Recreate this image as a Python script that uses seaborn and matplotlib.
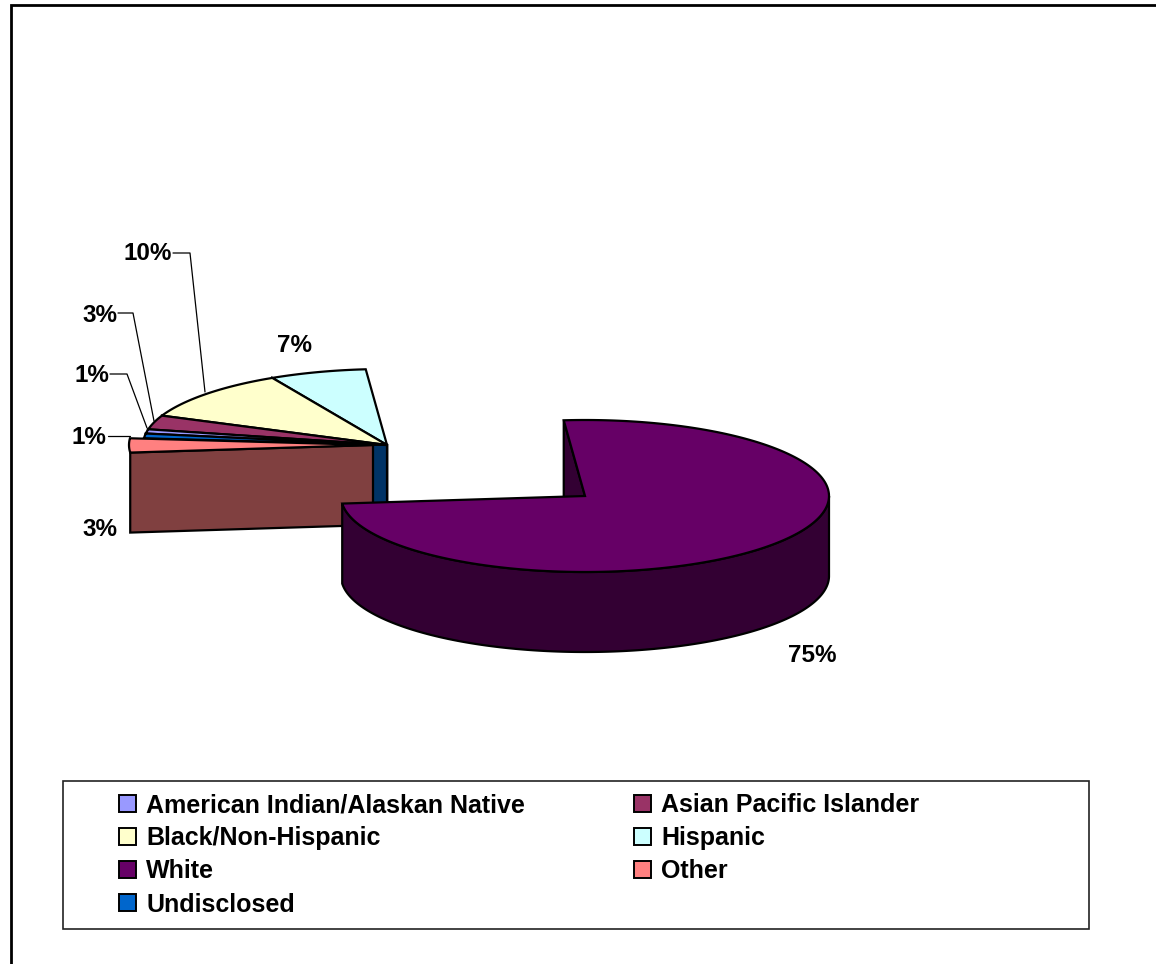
import numpy as np
import matplotlib
matplotlib.use("Agg")
import matplotlib.pyplot as plt
from matplotlib.patches import Patch, Rectangle
import seaborn as sns

categories = ["American Indian/Alaskan Native", "Asian Pacific Islander", "Black/Non-Hispanic",
              "Hispanic", "White", "Other", "Undisclosed"]
values = [0.9, 3.0, 10.9, 6.4, 74.8, 3.0, 1.0]
labels = ["1%", "3%", "10%", "7%", "75%", "3%", "1%"]
colors = ["#9999FF", "#993366", "#FFFFCC", "#CCFFFF", "#660066", "#FF8080", "#0066CC"]

sns.set_theme(style="white")
plt.rcParams["font.family"] = ["Liberation Sans", "DejaVu Sans"]

W, H = 1156, 964
fig = plt.figure(figsize=(W / 100, H / 100), dpi=100, facecolor="white")
ax = fig.add_axes([0, 0, 1, 1])
ax.set_xlim(0, W)
ax.set_ylim(H, 0)
ax.axis("off")

# layout of the pseudo-3D pie
RX, RY, DEPTH = 244, 76, 80
START = -5 - 360 * sum(values[:4]) / sum(values)
TIPS = {"White": (585, 496), "Other": (373, 445)}
DEFAULT_TIP = (387, 445)
LW = 1.6
FS = 17.5
LEG_FS = 18


def arc(tip, t0, t1, dy=0):
    t = np.radians(np.linspace(t0, t1, max(2, int(abs(t1 - t0)) * 2 + 2)))
    return tip[0] + RX * np.sin(t), tip[1] - RY * np.cos(t) + dy


def shade(c):
    return tuple(v * 0.5 for v in matplotlib.colors.to_rgb(c))


def face(x, y, color, z):
    ax.fill(x, y, facecolor=color, edgecolor="black", lw=LW, joinstyle="miter", zorder=z)


edges = START + 360 * np.concatenate([[0], np.cumsum(values)]) / sum(values)
draw_order = [3, 2, 1, 0, 6, 5, 4]
for z, i in enumerate(draw_order):
    t0, t1 = edges[i], edges[i + 1]
    tip = TIPS.get(categories[i], DEFAULT_TIP)
    base = 10 + z * 3
    dark = shade(colors[i])
    # clockwise-start wall
    ox, oy = arc(tip, t0, t0)
    ox, oy = ox[0], oy[0]
    face([tip[0], ox, ox, tip[0]], [tip[1], oy, oy + DEPTH, tip[1] + DEPTH], dark, base)
    # front rim
    if categories[i] == "White":
        ax_, ay_ = arc(tip, 90, t1)
        bx_, by_ = arc(tip, 90, t1, DEPTH)
        face(np.r_[ax_, bx_[::-1]], np.r_[ay_, by_[::-1]], dark, base + 1)
    # top surface
    ax_, ay_ = arc(tip, t0, t1)
    face(np.r_[tip[0], ax_], np.r_[tip[1], ay_], colors[i], base + 2)

# figure frame (open at the right and bottom)
ax.plot([11, 11, W], [H, 5, 5], color="black", lw=2, solid_joinstyle="miter", zorder=1)

# data labels and leader lines
label_pos = {0: (89, 438), 1: (100, 315), 2: (148, 254), 3: (294, 345), 4: (812, 655), 5: (100, 529), 6: (92, 376)}
for i, (x, y) in label_pos.items():
    ax.text(x, y, labels[i], ha="center", va="center", fontsize=FS, fontweight="bold", color="black", zorder=40)
leaders = [([108, 130], [436, 436]),
           ([118, 133, 154], [313, 313, 421]),
           ([173, 190, 205], [253, 253, 392]),
           ([110, 127, 147], [374, 374, 428])]
for lx, ly in leaders:
    ax.plot(lx, ly, color="black", lw=0.9, zorder=9)

# legend box + legend (filled column by column, reads row by row)
ax.add_patch(Rectangle((63, 781), 1026, 148, facecolor="white", edgecolor="#222222", lw=1.2, zorder=2))
handles = [Patch(facecolor=c, edgecolor="black", lw=1.4, label=n) for c, n in zip(colors, categories)]
reading = [0, 2, 4, 6, 1, 3, 5]
leg = ax.legend(handles=[handles[k] for k in reading], ncols=2, frameon=False, loc="upper left",
                bbox_to_anchor=(119 / W, 1 - 793.5 / H), bbox_transform=fig.transFigure,
                borderpad=0, borderaxespad=0,
                handlelength=0.68, handleheight=0.68, handletextpad=0.4,
                columnspacing=4.37, labelspacing=0.36,
                prop={"family": "Liberation Sans", "weight": "bold", "size": LEG_FS})
for t in leg.get_texts():
    t.set_color("black")
leg.set_zorder(50)

fig.savefig("out.png", dpi=100, facecolor="white")
